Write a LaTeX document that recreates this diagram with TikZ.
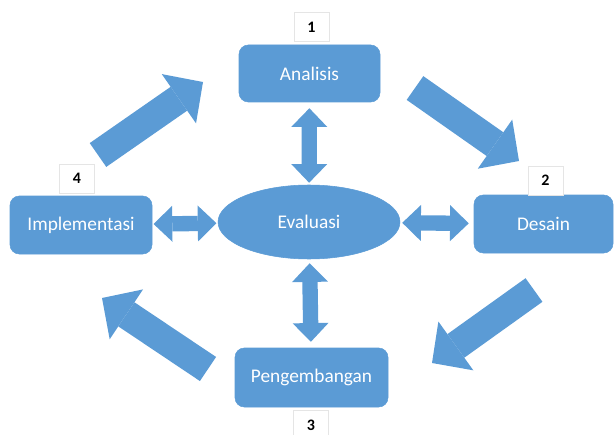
\documentclass[tikz,border=0pt]{standalone}
\usepackage{fontspec}
\setmainfont{Carlito}
\usepackage{tikz}
\usetikzlibrary{arrows.meta,shapes.geometric,positioning}
\definecolor{boxblue}{HTML}{5B9BD5}

\begin{document}
\begin{tikzpicture}[x=0.75pt, y=-0.75pt,
    phase/.style={rectangle, rounded corners=7pt, fill=boxblue, draw=boxblue,
        text=white, inner sep=0pt, font=\fontsize{14.5}{17}\selectfont},
    num/.style={rectangle, draw=gray!20, fill=white, inner sep=0pt,
        minimum width=26.25pt, minimum height=21.75pt,
        font=\fontsize{12}{14}\selectfont\bfseries},
    swap/.style={boxblue, line width=11.5pt,
        {Triangle[width=27pt,length=14pt,line width=0pt]}-{Triangle[width=27pt,length=14pt,line width=0pt]}},
    flow/.style={boxblue, line width=21.75pt,
        -{Triangle[width=45pt,length=22pt,line width=0pt]}}]
    \useasboundingbox (0,0) rectangle (614,435);

    % the four phases and the evaluation in the middle
    \node[phase, minimum width=105.75pt, minimum height=42.75pt] (analisis) at (309.5,73.5) {Analisis};
    \node[phase, minimum width=104.25pt, minimum height=43.5pt] (desain) at (543.5,224) {Desain};
    \node[phase, minimum width=114.75pt, minimum height=44.25pt] (pengembangan) at (311.5,377.5) {Pengembangan};
    \node[phase, minimum width=106.5pt, minimum height=43.5pt] (implementasi) at (81,225) {Implementasi};
    \node[phase, ellipse, minimum width=136.5pt, minimum height=55.5pt] (evaluasi) at (309,222) {Evaluasi};

    % step numbers
    \node[num] (n1) at (311.5,27) {1};
    \node[num] (n2) at (545.5,180.5) {2};
    \node[num] (n3) at (311,425) {3};
    \node[num] (n4) at (77,178.5) {4};

    % evaluation <-> phases
    \draw[swap, shorten <=4.5pt, shorten >=1.5pt] (analisis) -- (evaluasi);
    \draw[swap, shorten <=3pt, shorten >=4.5pt] (evaluasi) -- (pengembangan);
    \draw[swap, shorten <=1pt, shorten >=1pt] (evaluasi) -- (implementasi);
    \draw[swap, shorten <=1.5pt, shorten >=3.75pt] (evaluasi) -- (desain);

    % cycle arrows
    \coordinate (from4) at (98,155);  \coordinate (to1) at (203,82);
    \coordinate (from1) at (415,88);  \coordinate (to2) at (519,161);
    \coordinate (from2) at (534,290); \coordinate (to3) at (432,363);
    \coordinate (from3) at (208,369); \coordinate (to4) at (102,298);

    \draw[flow] (from4) -- (to1);
    \draw[flow] (from1) -- (to2);
    \draw[flow] (from2) -- (to3);
    \draw[flow] (from3) -- (to4);
\end{tikzpicture}
\end{document}
